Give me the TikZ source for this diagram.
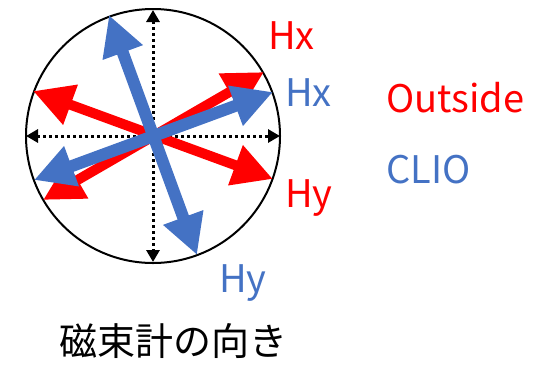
\documentclass[tikz,border=0pt]{standalone}
\usepackage{fontspec}
\setmainfont{Noto Sans CJK JP}
\usetikzlibrary{arrows.meta}
\definecolor{oblue}{RGB}{68,114,196}
\definecolor{ored}{RGB}{255,0,0}
\tikzset{
  bigfont/.style={font=\fontsize{38}{40}\selectfont, inner sep=0pt, anchor=base west},
  axis/.style={line width=3pt, dash pattern=on 3pt off 3pt, {Triangle[length=12pt,width=13pt]}-{Triangle[length=12pt,width=13pt]}},
  redarrow/.style={ored, line width=10pt, {Triangle[length=40pt,width=40pt]}-{Triangle[length=40pt,width=40pt]}},
  bluearrow/.style={oblue, line width=12pt, {Triangle[length=40pt,width=40pt]}-{Triangle[length=40pt,width=40pt]}},
}
\begin{document}
\begin{tikzpicture}[x=1pt,y=-1pt]
\useasboundingbox (0,0) rectangle (551,365);
% circle
\node[circle, draw, line width=2pt, minimum size=254pt, inner sep=0pt] (c) at (153,136) {};
% axes
\coordinate (axL) at (26,136);
\coordinate (axR) at (280,136);
\coordinate (axT) at (153,10);
\coordinate (axB) at (153,262);
\draw[axis] (axL) -- (axR);
\draw[axis] (axT) -- (axB);
% red arrows
\coordinate (rxA) at (43,200);
\coordinate (rxB) at (264,72);
\coordinate (ryA) at (33,91);
\coordinate (ryB) at (273,179);
\draw[redarrow] (rxA) -- (rxB);
\draw[redarrow] (ryA) -- (ryB);
% blue arrows
\coordinate (bxA) at (34,180);
\coordinate (bxB) at (273,92);
\coordinate (byA) at (109,15);
\coordinate (byB) at (197,255);
\draw[bluearrow] (bxA) -- (bxB);
\draw[bluearrow] (byA) -- (byB);
% labels
\node[bigfont, text=ored] (lrx) at (268,49) {Hx};
\node[bigfont, text=oblue] (lbx) at (285,106) {Hx};
\node[bigfont, text=ored] (lry) at (285,207) {Hy};
\node[bigfont, text=oblue] (lby) at (219,292) {Hy};
\node[bigfont, text=ored] (lout) at (386,112) {Outside};
\node[bigfont, text=oblue] (lclio) at (386,183) {CLIO};
\node[bigfont] (title) at (59,355) {磁束計の向き};
\end{tikzpicture}
\end{document}
